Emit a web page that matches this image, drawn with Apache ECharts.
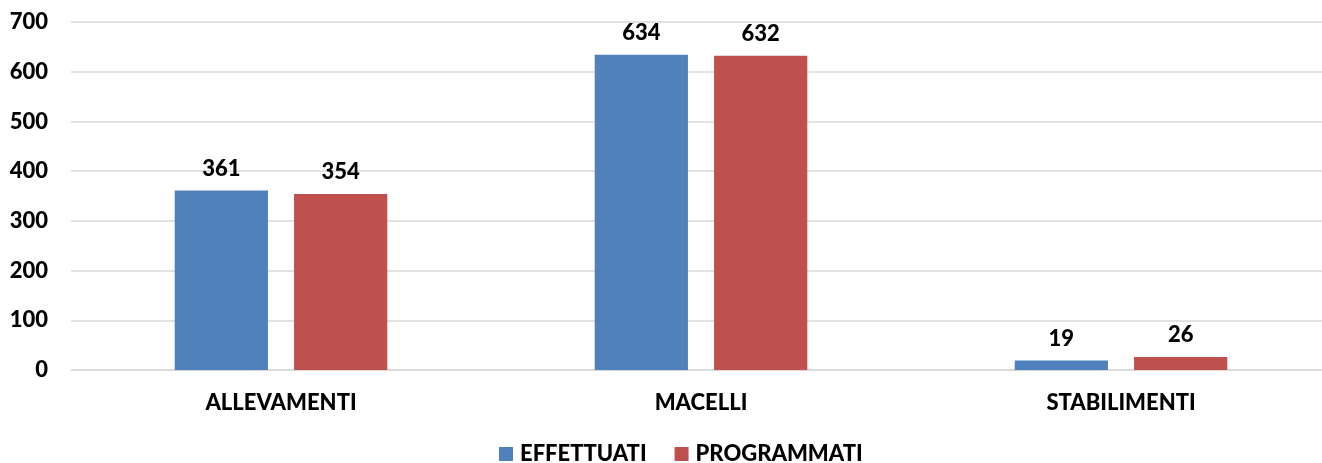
<!DOCTYPE html>
<html>
<head>
<meta charset="utf-8">
<script src="https://cdn.jsdelivr.net/npm/echarts@6/dist/echarts.min.js"></script>
<style>
  html, body { margin: 0; padding: 0; background: #fff; overflow: hidden; }
  #chart { width: 1331px; height: 463px; }
</style>
</head>
<body>
<div id="chart"></div>
<script>
// Controlli per tipologia di struttura
const categories = ['ALLEVAMENTI', 'MACELLI', 'STABILIMENTI'];
const effettuati = [361, 634, 19];
const programmati = [354, 632, 26];
const seriesNames = ['EFFETTUATI', 'PROGRAMMATI'];

const FONT = 'Lato';
const WEIGHT = 900;
const textStyle = { fontFamily: FONT, fontWeight: WEIGHT, fontSize: 22, color: '#000' };

const chart = echarts.init(document.getElementById('chart'), null, { renderer: 'canvas' });

const barLabel = {
  show: true,
  position: 'top',
  distance: 11,
  fontFamily: FONT,
  fontWeight: WEIGHT,
  fontSize: 22,
  color: '#000'
};

chart.setOption({
  animation: false,
  backgroundColor: '#fff',
  grid: { left: 71, top: 22, right: 0, bottom: 93, containLabel: false },
  legend: {
    top: 438,
    left: 494,
    itemWidth: 14,
    itemHeight: 14,
    itemGap: 28,
    icon: 'rect',
    textStyle: Object.assign({ padding: [0, 0, 0, 2] }, textStyle),
    data: seriesNames
  },
  xAxis: {
    type: 'category',
    data: categories,
    axisLine: { lineStyle: { color: '#D9D9D9', width: 1.5 } },
    axisTick: { show: false },
    axisLabel: Object.assign({ margin: 22 }, textStyle)
  },
  yAxis: {
    type: 'value',
    min: 0,
    max: 700,
    interval: 100,
    axisLine: { show: false },
    axisTick: { show: false },
    splitLine: { lineStyle: { color: '#D9D9D9', width: 1.5 } },
    axisLabel: Object.assign({ margin: 23 }, textStyle)
  },
  series: [
    {
      name: seriesNames[0],
      type: 'bar',
      data: effettuati,
      barWidth: '22.2%',
      barGap: '28%',
      itemStyle: { color: '#4F81BD' },
      label: barLabel
    },
    {
      name: seriesNames[1],
      type: 'bar',
      data: programmati,
      barWidth: '22.2%',
      barGap: '28%',
      itemStyle: { color: '#C0504D' },
      label: barLabel
    }
  ]
});
</script>
</body>
</html>
